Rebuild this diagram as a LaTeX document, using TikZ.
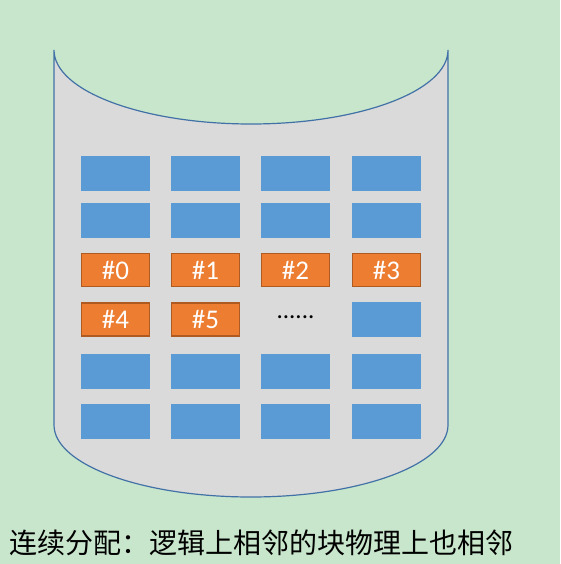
\documentclass[tikz,border=0pt]{standalone}
\usepackage{fontspec}
\newfontfamily\labelfont{Carlito}
\newfontfamily\cjkfont{Noto Sans CJK SC}
\usetikzlibrary{positioning}

\definecolor{achtergrond}{RGB}{200,230,203}
\definecolor{schijfgrijs}{RGB}{218,218,218}
\definecolor{randblauw}{RGB}{65,113,166}
\definecolor{blokblauw}{RGB}{91,155,213}
\definecolor{blokoranje}{RGB}{237,125,49}
\definecolor{randoranje}{RGB}{174,90,33}

\begin{document}
\begin{tikzpicture}[
			x=1pt, y=-1pt,
			% Stijlen
			schijf/.style={fill=schijfgrijs, draw=randblauw, line width=1.2pt},
			blok/.style={fill=blokblauw, draw=none, minimum width=69pt, minimum height=35pt, inner sep=0pt},
			bezet/.style={fill=blokoranje, draw=randoranje, line width=1.3pt, minimum width=68pt, minimum height=33pt, inner sep=0pt,
				text=white, font=\labelfont\fontsize{27}{30}\selectfont}
		]

		% --- Achtergrond ---
		\fill[achtergrond] (0,0) rectangle (560,564);
		\useasboundingbox (0,0) rectangle (560,564);

		% --- Parameters ---
		\def\cylL{54}     % linkerkant cilinder
		\def\cylR{448}    % rechterkant cilinder
		\def\cylM{251}    % midden
		\def\topY{50}     % bovenrand
		\def\botY{425}    % onderrand (zijkant)

		% --- 1. CILINDER (schijf) ---
		\draw[schijf]
		(\cylL,\topY) -- (\cylL,\botY)
		.. controls (\cylL,464.8) and (142.2,497) .. (\cylM,497)
		.. controls (359.8,497) and (\cylR,464.8) .. (\cylR,\botY)
		-- (\cylR,\topY)
		.. controls (\cylR,90.9) and (359.8,124) .. (\cylM,124)
		.. controls (142.2,124) and (\cylL,90.9) .. (\cylL,\topY) -- cycle;

		% --- 2. VRIJE BLOKKEN ---
		\foreach \r/\y in {1/173.5,2/220.5,5/371.5,6/421.5}
		\foreach \c/\x in {1/115.5,2/205.5,3/295.5,4/386.5}
		\node[blok] (b\r\c) at (\x,\y) {};
		\node[blok] (b44) at (386.5,319.5) {};

		% --- 3. BEZETTE BLOKKEN (aaneengesloten) ---
		\foreach \c/\x/\n in {1/115.5/0,2/205.5/1,3/295.5/2,4/386.5/3}
		\node[bezet] (b3\c) at (\x,270) {\#\n};
		\node[bezet] (b41) at (115.5,319.5) {\#4};
		\node[bezet] (b42) at (205.5,319.5) {\#5};
		\node[font=\labelfont\fontsize{25}{28}\selectfont, inner sep=0pt] (puntjes) at (295.5,317) {......};

		% --- 4. ONDERSCHRIFT ---
		\node[anchor=west, inner sep=0pt, font=\cjkfont\fontsize{28}{31}\selectfont] (onderschrift) at (9,543)
		{连续分配：逻辑上相邻的块物理上也相邻};

	\end{tikzpicture}
\end{document}
